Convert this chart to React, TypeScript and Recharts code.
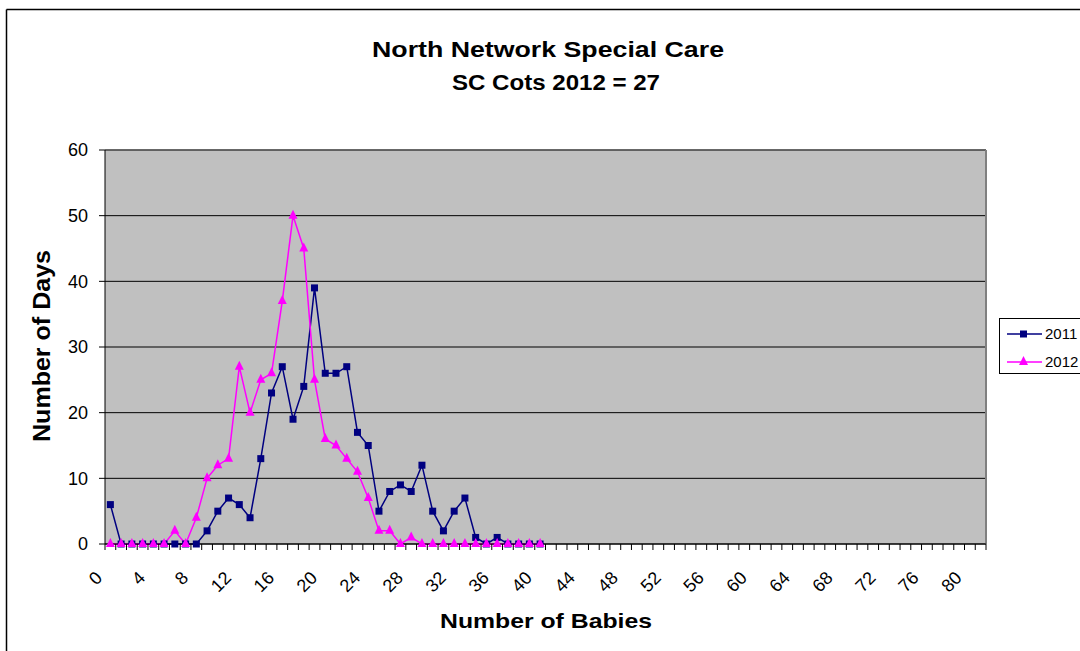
import React from 'react';
import { LineChart, Line, XAxis, YAxis, CartesianGrid, ReferenceLine, Legend } from 'recharts';

// x categories 0..81 (number of babies), labels shown every 4th
const categories = Array.from({ length: 82 }, (_, i) => i);
const yTicks = [0, 10, 20, 30, 40, 50, 60];

// number of days, babies 0..40
const days2011 = [6, 0, 0, 0, 0, 0, 0, 0, 0, 2, 5, 7, 6, 4, 13, 23, 27, 19, 24, 39, 26, 26, 27, 17, 15, 5, 8, 9, 8, 12, 5, 2, 5, 7, 1, 0, 1, 0, 0, 0, 0];
const days2012 = [0, 0, 0, 0, 0, 0, 2, 0, 4, 10, 12, 13, 27, 20, 25, 26, 37, 50, 45, 25, 16, 15, 13, 11, 7, 2, 2, 0, 1, 0, 0, 0, 0, 0, 0, 0, 0, 0, 0, 0, 0];

const data = days2011.map((v, i) => ({ babies: categories[i], y2011: v, y2012: days2012[i] }));

const NAVY = '#000080';
const PINK = '#FF00FF';
const FONT = '"Liberation Sans", Arial, sans-serif';
const STEP = 881 / categories.length;

const XTick = (props: any) => {
  const { x, y, payload } = props;
  const v = payload.value;
  const last = categories[categories.length - 1];
  const tx = x - 7;
  const ty = y + 35;
  return (
    <g>
      <line x1={x - STEP / 2} x2={x - STEP / 2} y1={y} y2={y + 6} stroke="#000" />
      {v === last && <line x1={x + STEP / 2} x2={x + STEP / 2} y1={y} y2={y + 6} stroke="#000" />}
      {v % 4 === 0 && (
        <text x={tx} y={ty} textAnchor="end" fontSize={18} fill="#000" transform={`rotate(-45 ${tx} ${ty})`}>
          {v}
        </text>
      )}
    </g>
  );
};

const SquareDot = (props: any) => {
  const { cx, cy, index } = props;
  if (cy == null) return <g key={index} />;
  return <rect key={index} x={cx - 3.5} y={cy - 3.5} width={7} height={7} fill={NAVY} />;
};

const TriangleDot = (props: any) => {
  const { cx, cy, index } = props;
  if (cy == null) return <g key={index} />;
  return <polygon key={index} points={`${cx},${cy - 6} ${cx + 4.5},${cy + 3} ${cx - 4.5},${cy + 3}`} fill={PINK} />;
};

const LegendBox = () => (
  <div style={{ border: '1px solid #000', background: '#fff', width: 90, height: 54 }}>
    <svg width={90} height={54} style={{ display: 'block' }}>
      <line x1={7} x2={42} y1={15} y2={15} stroke={NAVY} strokeWidth={1.5} />
      <rect x={20} y={11.5} width={7} height={7} fill={NAVY} />
      <text x={45} y={20} fontSize={15} fill="#000">2011</text>
      <line x1={7} x2={42} y1={43} y2={43} stroke={PINK} strokeWidth={1.5} />
      <polygon points="23.5,37 28,46 19,46" fill={PINK} />
      <text x={45} y={48} fontSize={15} fill="#000">2012</text>
    </svg>
  </div>
);

export default function App() {
  return (
    <div style={{ position: 'absolute', left: 0, top: 0, width: 1080, height: 651, overflow: 'hidden', background: '#fff', fontFamily: FONT }}>
      <LineChart width={1080} height={651} data={data} margin={{ top: 150, right: 94, bottom: 47, left: 0 }}>
        <CartesianGrid vertical={false} stroke="#000" fill="#C0C0C0" fillOpacity={1} />
        <XAxis
          dataKey="babies"
          type="number"
          domain={[-0.5, 81.5]}
          ticks={categories}
          interval={0}
          tick={<XTick />}
          tickLine={false}
          tickSize={0}
          tickMargin={0}
          height={60}
          axisLine={{ stroke: '#000' }}
        />
        <YAxis
          type="number"
          domain={[0, 60]}
          ticks={yTicks}
          width={105}
          tickSize={6}
          tickMargin={11}
          tick={{ fontSize: 18, fill: '#000' }}
          tickLine={{ stroke: '#000' }}
          axisLine={{ stroke: '#000' }}
        />
        <ReferenceLine y={60} stroke="#606060" strokeWidth={1.5} />
        <ReferenceLine x={81.5} stroke="#808080" strokeWidth={2} />
        <Line dataKey="y2011" name="2011" stroke={NAVY} strokeWidth={1.5} dot={<SquareDot />} activeDot={false} isAnimationActive={false} />
        <Line dataKey="y2012" name="2012" stroke={PINK} strokeWidth={1.5} dot={<TriangleDot />} activeDot={false} isAnimationActive={false} />
        <Legend
          layout="horizontal"
          verticalAlign="middle"
          align="center"
          wrapperStyle={{ left: 999, top: 318 }}
          content={() => <LegendBox />}
        />
      </LineChart>
      <svg width={1080} height={651} style={{ position: 'absolute', left: 0, top: 0, pointerEvents: 'none' }}>
        <line x1={6.5} x2={1080} y1={9.5} y2={9.5} stroke="#000" strokeWidth={1.5} />
        <line x1={6.5} x2={6.5} y1={9.5} y2={651} stroke="#000" strokeWidth={1.5} />
        <text x={548} y={57} textAnchor="middle" fontSize={22} fontWeight="bold" textLength={352} lengthAdjust="spacingAndGlyphs">
          North Network Special Care
        </text>
        <text x={556} y={90} textAnchor="middle" fontSize={22} fontWeight="bold" textLength={208} lengthAdjust="spacingAndGlyphs">
          SC Cots 2012 = 27
        </text>
        <text x={546} y={628} textAnchor="middle" fontSize={21} fontWeight="bold" textLength={212} lengthAdjust="spacingAndGlyphs">
          Number of Babies
        </text>
        <text x={50} y={346} textAnchor="middle" fontSize={23} fontWeight="bold" textLength={192} lengthAdjust="spacingAndGlyphs" transform="rotate(-90 50 346)">
          Number of Days
        </text>
      </svg>
    </div>
  );
}
